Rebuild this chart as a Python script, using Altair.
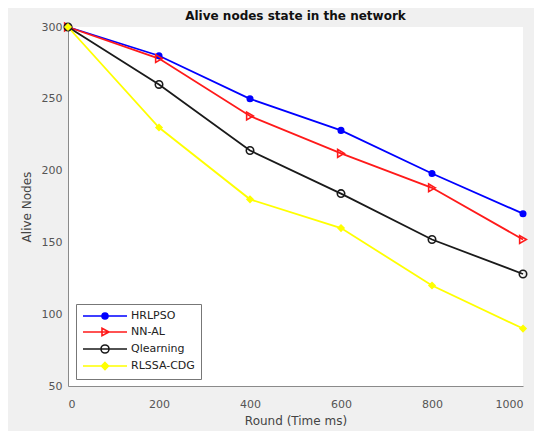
import altair as alt
import pandas as pd

rounds = [0, 200, 400, 600, 800, 1000]
series_names = ["HRLPSO", "NN-AL", "Qlearning", "RLSSA-CDG"]
hrlpso = [300, 280, 250, 228, 198, 170]
nn_al = [300, 278, 238, 212, 188, 152]
qlearning = [300, 260, 214, 184, 152, 128]
rlssa_cdg = [300, 230, 180, 160, 120, 90]

colors = ["#0000ff", "#ff1a1a", "#1a1a1a", "#ffff00"]
fills = ["#0000ff", "transparent", "transparent", "#ffff00"]
shapes = ["circle", "triangle-right", "circle", "diamond"]
sizes = [30, 60, 55, 35]

rows = []
for name, vals in zip(series_names, [hrlpso, nn_al, qlearning, rlssa_cdg]):
    for r, v in zip(rounds, vals):
        rows.append({"round": r, "nodes": v, "series": name})
df = pd.DataFrame(rows)

# legend-only rows (no coordinates -> no marks drawn, legend only)
leg_df = pd.DataFrame({"name": series_names, "round": [None] * 4, "nodes": [None] * 4})

line_p = "M-4.4,0L4.4,0"
circ_s = "M-0.6,0A0.6,0.6 0 1,0 0.6,0A0.6,0.6 0 1,0 -0.6,0Z"
circ_l = "M-0.8,0A0.8,0.8 0 1,0 0.8,0A0.8,0.8 0 1,0 -0.8,0Z"
tri = "M-0.6,-0.75L0.8,0L-0.6,0.75Z"
dia = "M0,-0.7L0.7,0L0,0.7L-0.7,0Z"
legend_paths = [line_p + circ_s, line_p + tri, line_p + circ_l, line_p + dia]

FONT = "DejaVu Sans"

x_enc = alt.X("round:Q", title="Round (Time ms)",
              scale=alt.Scale(domain=[0, 1000], nice=False),
              axis=alt.Axis(values=rounds, format="d", labelPadding=12, titlePadding=6))
y_enc = alt.Y("nodes:Q", title="Alive Nodes",
              scale=alt.Scale(domain=[50, 300], nice=False, zero=False),
              axis=alt.Axis(values=[50, 100, 150, 200, 250, 300], labelPadding=6, titlePadding=8))

legend = alt.Legend(
    title=None, orient="none", legendX=8, legendY=277,
    symbolSize=100, labelOffset=20, symbolOffset=17, rowPadding=2,
    padding=6, strokeColor="#777777", fillColor="white",
    symbolStrokeWidth=1.6, symbolOpacity=1,
    labelFontSize=11, labelColor="#222222", labelFont=FONT,
)

lines = alt.Chart(df).mark_line(strokeWidth=1.8).encode(
    x=x_enc, y=y_enc,
    color=alt.Color("series:N", scale=alt.Scale(domain=series_names, range=colors), legend=None),
)

point_layers = []
for name, col, fil, shp, sz in zip(series_names, colors, fills, shapes, sizes):
    point_layers.append(
        alt.Chart(df).transform_filter(alt.datum.series == name).mark_point(
            shape=shp, size=sz, stroke=col, fill=fil, filled=fil != "transparent",
            strokeWidth=1.6, opacity=1, fillOpacity=1,
        ).encode(x=x_enc, y=y_enc)
    )

legend_layer = alt.Chart(leg_df).mark_point(strokeWidth=1.6, opacity=1, fillOpacity=1).encode(
    x=x_enc, y=y_enc,
    color=alt.Color("name:N", scale=alt.Scale(domain=series_names, range=colors), legend=legend,
                    sort=series_names),
    fill=alt.Fill("name:N", scale=alt.Scale(domain=series_names, range=fills), legend=legend,
                  sort=series_names),
    shape=alt.Shape("name:N", scale=alt.Scale(domain=series_names, range=legend_paths),
                    legend=legend, sort=series_names),
)

chart = alt.layer(lines, *point_layers, legend_layer).resolve_scale(
    color="independent", fill="independent", shape="independent"
).properties(
    width=455, height=359,
    title=alt.Title("Alive nodes state in the network", fontSize=12, fontWeight="bold",
                    color="#111111", font=FONT, offset=6, dy=9),
    autosize=alt.AutoSizeParams(type="none"),
    padding={"left": 60, "top": 19, "right": 11, "bottom": 45},
    background="#f0f0f0",
).configure_view(
    fill="white", stroke=None
).configure_axis(
    domainColor="#8a8a8a", domainWidth=1, ticks=False, grid=False,
    labelFont=FONT, labelFontSize=11, labelColor="#555555",
    titleFont=FONT, titleFontSize=12, titleFontWeight="normal", titleColor="#444444",
)

chart.save("out.html", embed_options={"renderer": "svg", "actions": False})
